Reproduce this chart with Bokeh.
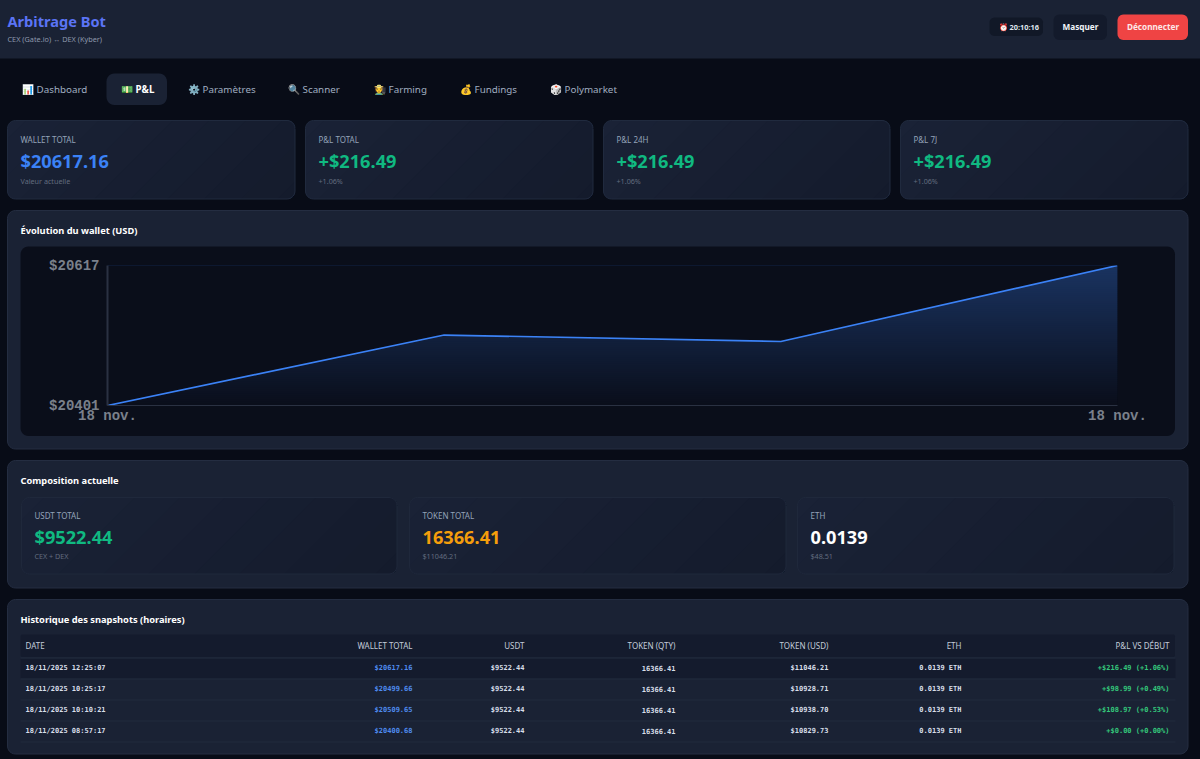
import math
import numpy as np
from bokeh.core.properties import value
from bokeh.embed import file_html
from bokeh.layouts import column
from bokeh.models import FixedTicker, NumeralTickFormatter, Range1d
from bokeh.plotting import figure
from bokeh.resources import INLINE

# ---------- data ----------
snapshot_dates = ["18/11/2025 12:25:07", "18/11/2025 10:25:17", "18/11/2025 10:10:21", "18/11/2025 08:57:17"]
wallet_totals = [20617.16, 20499.66, 20509.65, 20400.68]
usdt_values = [9522.44, 9522.44, 9522.44, 9522.44]
token_qty = [16366.41, 16366.41, 16366.41, 16366.41]
token_usd = [11046.21, 10928.71, 10938.70, 10829.73]
eth_values = [0.0139, 0.0139, 0.0139, 0.0139]
pnl_labels = ["+$216.49 (+1.06%)", "+$98.99 (+0.49%)", "+$108.97 (+0.53%)", "+$0.00 (+0.00%)"]
table_headers = ["DATE", "WALLET TOTAL", "USDT", "TOKEN (QTY)", "TOKEN (USD)", "ETH", "P&L VS DÉBUT"]
nav_labels = ["📊 Dashboard", "💵 P&L", "⚙️ Paramètres", "🔍 Scanner", "🧑‍🌾 Farming", "💰 Fundings", "🎲 Polymarket"]
stat_labels = ["WALLET TOTAL", "P&L TOTAL", "P&L 24H", "P&L 7J"]
stat_values = ["$20617.16", "+$216.49", "+$216.49", "+$216.49"]
stat_subs = ["Valeur actuelle", "+1.06%", "+1.06%", "+1.06%"]
comp_labels = ["USDT TOTAL", "TOKEN TOTAL", "ETH"]
comp_values = ["$9522.44", "16366.41", "0.0139"]
comp_subs = ["CEX + DEX", "$11046.21", "$48.51"]
chart_ticks = ["18 nov.", "18 nov."]

# ---------- palette ----------
PAGE = "#080c17"
PANEL = "#1a2234"
CHART_BG = "#0a0e1a"
BLUE = "#3b82f6"
GREEN = "#10b981"
SANS = "Noto Sans"
MONO = "DejaVu Sans Mono"

bg = figure(width=1201, height=760, x_range=Range1d(-1, 1200), y_range=Range1d(759, -1),
            output_backend="svg", toolbar_location=None, min_border=0, frame_align=False,
            background_fill_color=PAGE, border_fill_color=PAGE, outline_line_color=None)
bg.axis.visible = False
bg.grid.visible = False


def rr(x0, y0, x1, y1, r):
    xs, ys = [], []
    for cx, cy, a0 in [(x1 - r, y0 + r, -90), (x1 - r, y1 - r, 0), (x0 + r, y1 - r, 90), (x0 + r, y0 + r, 180)]:
        for k in range(7):
            a = math.radians(a0 + 15 * k)
            xs.append(cx + r * math.cos(a))
            ys.append(cy + r * math.sin(a))
    return xs, ys


def clip(xs, ys, c):
    """Keep the part of a polygon where x + y >= c."""
    ox, oy = [], []
    n = len(xs)
    for i in range(n):
        ax, ay, bx, by = xs[i], ys[i], xs[(i + 1) % n], ys[(i + 1) % n]
        fa, fb = ax + ay - c, bx + by - c
        if fa >= 0:
            ox.append(ax); oy.append(ay)
        if fa * fb < 0:
            t_ = fa / (fa - fb)
            ox.append(ax + t_ * (bx - ax)); oy.append(ay + t_ * (by - ay))
    return ox, oy


def hex2(c):
    return [int(c[i:i + 2], 16) for i in (1, 3, 5)]


def box(x0, y0, x1, y1, r, c0, c1=None, border=None):
    xs, ys = rr(x0, y0, x1 - 0.5, y1 - 0.5, r)
    bg.patch(xs, ys, fill_color=c0, line_color=None)
    if c1:
        a, b = hex2(c0), hex2(c1)
        n = max(abs(u - v) for u, v in zip(a, b)) or 1
        lo, hi = x0 + y0, x1 + y1
        for i in range(1, n + 1):
            f = i / n
            col = "#%02x%02x%02x" % tuple(round(u + (v - u) * f) for u, v in zip(a, b))
            cx, cy = clip(xs, ys, lo + (hi - lo) * (i - 0.5) / n)
            if cx:
                bg.patch(cx, cy, fill_color=col, line_color=None)
    if border:
        bg.patch(xs, ys, fill_color=None, line_color=border, line_width=1)


def t(x, y, s, size, color, font=SANS, bold=False, align="left"):
    dy = -1.2 if font == SANS else -0.2
    bg.text([x], [y + dy], text=[s], text_font=value(font), text_font_size=f"{size}px", text_color=color,
            text_font_style="bold" if bold else "normal", text_align=align, text_baseline="middle")


# ---------- header ----------
bg.quad(left=-1, right=1200, top=-1, bottom=58, fill_color=PANEL, line_color=None)
t(7, 22, "Arbitrage Bot", 14.6, "#5b74f5", bold=True)
t(7, 40, "CEX (Gate.io) ↔ DEX (Kyber)", 7.3, "#8e99ac")
box(989, 17, 1043, 36, 5, "#111827")
t(998, 27.4, "⏰ 20:10:16", 7.4, "#dfe5ee", bold=True)
box(1053, 14, 1107, 40, 6, "#131a2b")
t(1080, 27.4, "Masquer", 8.2, "#f1f5f9", bold=True, align="center")
box(1117, 14, 1188, 40, 6, "#ef4444")
t(1152.5, 27.4, "Déconnecter", 8.2, "#fde8e8", bold=True, align="center")

# ---------- nav ----------
box(106, 73, 167, 105, 8, PANEL)
nav_x = [21.5, 120.5, 187.5, 287.5, 373.5, 459.5, 549.5]
for i, (x, lab) in enumerate(zip(nav_x, nav_labels)):
    t(x, 89.8, lab, 9.8, "#ffffff" if i == 1 else "#a0aec0", bold=(i == 1))

# ---------- stat cards ----------
stat_x = [(7, 295), (305, 593), (603, 890), (900, 1188)]
for (x0, x1), lab, val, sub, col in zip(stat_x, stat_labels, stat_values, stat_subs, [BLUE, GREEN, GREEN, GREEN]):
    box(x0, 120, x1, 199, 8, "#1a2236", "#141b2c", border="#202a3e")
    t(x0 + 13, 140.5, lab, 8, "#94a3b8")
    t(x0 + 13, 161.8, val, 18.2, col, bold=True)
    t(x0 + 13, 181.8, sub, 7.2, "#626c7f")

# ---------- panels ----------
for y0, y1, title in [(210, 449, "Évolution du wallet (USD)"), (460, 588, "Composition actuelle"),
                      (599, 754, "Historique des snapshots (horaires)")]:
    box(7, y0, 1188, y1, 8, PANEL, border="#242d41")
    t(20, y0 + 21.3, title, 9.3, "#ffffff", bold=True)
box(20, 246, 1175, 436, 8, CHART_BG)

comp_x = [(21, 397), (409, 786), (797, 1174)]
for (x0, x1), lab, val, sub, col in zip(comp_x, comp_labels, comp_values, comp_subs, [GREEN, "#f59e0b", "#ffffff"]):
    box(x0, 497, x1, 574, 8, "#1a2236", "#141b2c", border="#1f283b")
    t(x0 + 13, 516.5, lab, 8, "#94a3b8")
    t(x0 + 13, 538, val, 18.2, col, bold=True)
    t(x0 + 13, 556.8, sub, 7.2, "#626c7f")

# ---------- table ----------
box(20, 634, 1175, 657, 2, "#141b2d")
bg.quad(left=20, right=1175, top=658, bottom=678, fill_color="#141b2d", line_color=None)
for yy in [657.5, 678.5, 699.5, 720.5, 741.5]:
    bg.line([20, 1175], [yy, yy], line_color="#202a3c", line_width=1)
col_pos = [25, 412, 524, 675, 828, 961, 1169]
for j, (x, h) in enumerate(zip(col_pos, table_headers)):
    t(x, 646.5, h, 8, "#c3ccd9", bold=False, align="left" if j == 0 else "right")
row_y = [668, 689, 710, 731]
for k, y in enumerate(row_y):
    cells = [snapshot_dates[k], f"${wallet_totals[k]:.2f}", f"${usdt_values[k]:.2f}", f"{token_qty[k]:.2f}",
             f"${token_usd[k]:.2f}", f"{eth_values[k]:.4f} ETH", pnl_labels[k]]
    cols = ["#d8dfe9", "#4f8cf0", "#d8dfe9", "#d8dfe9", "#d8dfe9", "#d8dfe9", "#34c77b"]
    for j, (x, c, cl) in enumerate(zip(col_pos, cells, cols)):
        t(x, y - (0.8 if j == 3 else 0), c, 7, cl, font=MONO, bold=True, align="left" if j == 0 else "right")

# ---------- wallet chart (its own scales and axes) ----------
series = wallet_totals[::-1]
idx = list(range(len(series)))
y_min, y_max = min(series), max(series)
chart = figure(width=1155, height=190, x_range=Range1d(idx[0], idx[-1]), y_range=Range1d(y_min, y_max),
               output_backend="svg", toolbar_location=None, background_fill_color=None, border_fill_color=None,
               outline_line_color=None, frame_align=False,
               min_border_left=87, min_border_right=58, min_border_top=19, min_border_bottom=31,
               styles={"position": "absolute", "left": "21px", "top": "246.5px"})
chart.grid.visible = False
a, b = np.array(hex2(CHART_BG), float), np.array(hex2(BLUE), float)
levels = np.linspace(y_min, y_max, 71)
for i in range(70):
    f = 0.32 * (i + 0.5) / 70
    c = a + (b - a) * f
    chart.quad(left=idx[0], right=idx[-1], bottom=levels[i], top=levels[min(i + 2, 70)],
               fill_color="#%02x%02x%02x" % tuple(int(round(v)) for v in c), line_color=None)
chart.varea(x=idx, y1=series, y2=[y_max] * len(series), fill_color=CHART_BG)
chart.line(idx, series, line_color=BLUE, line_width=1.7)

chart.xaxis.ticker = FixedTicker(ticks=[idx[0], idx[-1]])
chart.xaxis.major_label_overrides = {idx[0]: chart_ticks[0], idx[-1]: chart_ticks[1]}
chart.yaxis.ticker = FixedTicker(ticks=[y_min, y_max])
chart.yaxis.formatter = NumeralTickFormatter(format="$0")
for ax in (chart.xaxis[0], chart.yaxis[0]):
    ax.major_tick_line_color = None
    ax.minor_tick_line_color = None
    ax.major_label_text_font = "Liberation Mono"
    ax.major_label_text_font_size = "14px"
    ax.major_label_text_font_style = "bold"
    ax.major_label_text_color = "#7a808b"
    ax.axis_line_color = "#2a3142"
chart.yaxis[0].axis_line_width = 2
chart.yaxis[0].major_label_standoff = 2
chart.xaxis[0].major_label_standoff = -4

for fig in (bg, chart):
    fig.outline_line_alpha = 0
    fig.outline_line_width = 0

page = column(bg, chart, styles={"position": "absolute", "left": "-1px", "top": "-1px"})
open("out.html", "w").write(file_html(page, INLINE))
